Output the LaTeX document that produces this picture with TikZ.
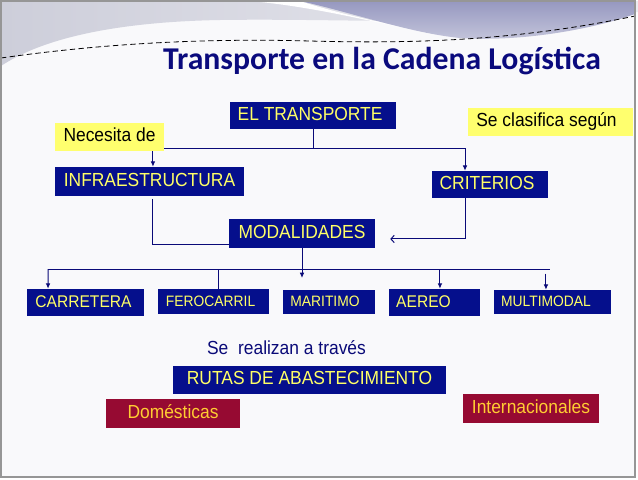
\documentclass[tikz,border=0pt]{standalone}
\usepackage{fontspec}
\setmainfont{Liberation Sans}[FakeStretch=0.92]
\newfontfamily\titlefont{Carlito}
\usetikzlibrary{arrows.meta}
\definecolor{navybox}{RGB}{5,15,140}
\definecolor{ytext}{RGB}{255,255,102}
\definecolor{ybox}{RGB}{255,255,110}
\definecolor{maroonbox}{RGB}{150,10,50}
\definecolor{otext}{RGB}{255,205,50}
\definecolor{linecol}{RGB}{10,10,120}
\definecolor{titlecol}{RGB}{10,10,125}
\definecolor{pagebg}{RGB}{249,249,251}
\definecolor{swlight}{RGB}{205,206,218}
\definecolor{swlight2}{RGB}{236,236,241}
\definecolor{swdark}{RGB}{150,152,192}
\definecolor{swdark2}{RGB}{198,199,220}
\definecolor{framecol}{RGB}{150,150,150}
\pgfdeclarelayer{bg}
\pgfdeclarelayer{lines}
\pgfsetlayers{bg,lines,main}
\newcommand\bx[7]{\node[#6, minimum width={(#4-#2)*0.75pt}, minimum height={(#5-#3)*0.75pt}] (#1) at ({(#2+#4)/2},{(#3+#5)/2}) {#7};}
\newcommand\shx[2]{\kern#1\relax #2\kern-#1\relax}
\tikzset{
  base/.style={inner sep=0pt, text height=0.716em, text depth=0pt, font=\fontsize{14.2}{16}\selectfont},
  navy/.style={base, fill=navybox, text=ytext},
  yel/.style={base, fill=ybox, text=black},
  mar/.style={base, fill=maroonbox, text=otext},
  midf/.style={font=\fontsize{12.7}{15}\selectfont},
  smallf/.style={font=\fontsize{11.3}{13}\selectfont},
  conn/.style={draw=linecol, line width=0.75pt},
  arr/.style={-{Latex[length=4pt,width=3.5pt]}},
  barb/.style={-{Straight Barb[length=2.5pt,width=5.5pt]}},
}
\begin{document}
\begin{tikzpicture}[x=0.75pt,y=-0.75pt]
\useasboundingbox (0,0) rectangle (638,479);
\begin{pgfonlayer}{bg}
\fill[white] (0,0) rectangle (638,479);
\fill[pagebg] (1,1) rectangle (635,477);
\shade[left color=swlight, right color=swlight2] (1,1) -- (638,1) -- (638,12) .. controls (500,28) and (350,18) .. (220,20) .. controls (110,22) and (40,40) .. (1,66) -- cycle;
\fill[white] (250,1) .. controls (330,8) and (400,30) .. (450,36) .. controls (380,24) and (320,8) .. (300,1) -- cycle;
\shade[top color=swdark, bottom color=swdark2] (300,1) -- (635,1) -- (635,14) .. controls (590,30) and (520,42) .. (460,38) .. controls (410,33) and (350,12) .. (300,1) -- cycle;
\draw[draw={RGB:red,60;green,70;blue,110}, line width=0.6pt, dash pattern=on 4pt off 2.5pt] (1,58) .. controls (100,44) and (200,38) .. (310,41) .. controls (420,44) and (520,40) .. (635,16);
\draw[framecol, line width=1.1pt] (1,1) rectangle (635,477);
\end{pgfonlayer}

\node[font=\titlefont\bfseries\fontsize{23.8}{27}\selectfont, text=titlecol, anchor=base] (title) at (382,69) {Transporte en la Cadena Logística};

\bx{ET}{230}{102}{396}{129}{navy}{\shx{-2.2pt}{EL TRANSPORTE}}
\bx{SCS}{468}{108}{633}{136}{yel}{\shx{-3pt}{Se clasifica según}}
\bx{NEC}{55}{123}{164}{151}{yel}{Necesita de}
\bx{INF}{55}{167}{244}{196}{navy}{INFRAESTRUCTURA}
\bx{CRI}{432}{171}{548}{198}{navy}{\shx{-2.2pt}{CRITERIOS}}
\bx{MOD}{229}{219}{375}{248}{navy}{MODALIDADES}
\bx{CAR}{27}{289}{144}{316}{navy,midf}{\shx{-1.5pt}{CARRETERA}}
\bx{FER}{158}{289}{269}{314}{navy,smallf}{\shx{-2.2pt}{FEROCARRIL}}
\bx{MAR}{283}{290}{375}{314}{navy,smallf}{\shx{-3pt}{MARITIMO}}
\bx{AER}{389}{289}{480}{316}{navy,midf}{\shx{-8.25pt}{AEREO}}
\bx{MUL}{494}{290}{611}{314}{navy,smallf}{\shx{-4.9pt}{MULTIMODAL}}
\node[base, text=linecol] (SRT) at (286.5,350) {Se\ \ realizan a través};
\bx{RUT}{173}{366}{446}{394}{navy}{RUTAS DE ABASTECIMIENTO}
\bx{DOM}{106}{399}{240}{428}{mar}{Domésticas}
\bx{INT}{463}{394}{599}{423}{mar}{Internacionales}

\coordinate (j1) at (313,148);
\coordinate (m1) at (302,278);
\coordinate (busL) at (48,269);
\coordinate (busR) at (550,269);

\begin{pgfonlayer}{lines}
\draw[conn] (ET.south) -- (j1);
\draw[conn,arr] (j1) -| ([xshift=2.6pt]INF.north);
\draw[conn,arr] (j1) -| ([xshift=-18.75pt]CRI.north);
\draw[conn] ([xshift=2.6pt,yshift=-2pt]INF.south) |- ([yshift=-8.25pt]MOD.west);
\draw[conn,barb] ([xshift=-18.75pt]CRI.south) |- ([xshift=11.25pt,yshift=-4.1pt]MOD.east);
\draw[conn,arr] (MOD.south) -- (m1);
\draw[conn] (busL) -- (busR);
\draw[conn,arr] (busL) -- ([xshift=-28.1pt]CAR.north);
\draw[conn] ([xshift=3.4pt]FER.north) -- ([xshift=3.4pt]FER.north |- busL);
\draw[conn,arr] ([xshift=4.1pt]AER.north |- busL) -- ([xshift=4.1pt]AER.north);
\draw[conn,arr] ([xshift=-4.9pt,yshift=12pt]MUL.north) -- ([xshift=-4.9pt]MUL.north);
\end{pgfonlayer}
\end{tikzpicture}
\end{document}
